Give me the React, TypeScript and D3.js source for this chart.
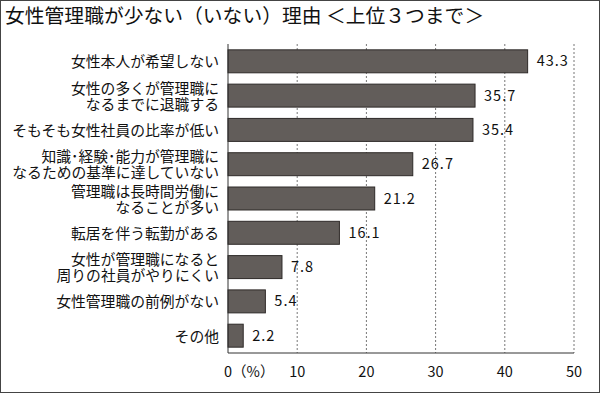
import React from "react";
import * as d3 from "d3";

const categories: string[][] = [
  ["女性本人が希望しない"],
  ["女性の多くが管理職に", "なるまでに退職する"],
  ["そもそも女性社員の比率が低い"],
  ["知識･経験･能力が管理職に", "なるための基準に達していない"],
  ["管理職は長時間労働に", "なることが多い"],
  ["転居を伴う転勤がある"],
  ["女性が管理職になると", "周りの社員がやりにくい"],
  ["女性管理職の前例がない"],
  ["その他"],
];
const values: number[] = [43.3, 35.7, 35.4, 26.7, 21.2, 16.1, 7.8, 5.4, 2.2];
const ticks: number[] = [0, 10, 20, 30, 40, 50];
const tickLabels: string[] = ["0（%）", "10", "20", "30", "40", "50"];
const title = "女性管理職が少ない（いない）理由 ＜上位３つまで＞";

const W = 600;
const H = 393;
const left = 228;
const right = 574;
const top = 44;
const bottom = 353;
const jp = "'Noto Sans CJK JP', sans-serif";

export default function App() {
  const x = d3.scaleLinear().domain([0, 50]).range([left, right]);
  const y = d3
    .scaleBand<number>()
    .domain(d3.range(categories.length))
    .range([top, bottom])
    .paddingInner(0.33)
    .paddingOuter(0.17);

  return (
    <svg
      width={W}
      height={H}
      style={{ position: "absolute", left: 0, top: 0, background: "#fff" }}
    >
      <rect x={0.5} y={0.5} width={W - 1} height={H - 1} fill="#fff" stroke="#444" />
      <text x={5} y={23} fontFamily={jp} fontSize={19.8} fill="#111">
        {title}
      </text>
      {ticks.slice(1).map((t) => (
        <line
          key={t}
          x1={x(t)}
          x2={x(t)}
          y1={top}
          y2={bottom}
          stroke="#777"
          strokeDasharray="2,2"
          strokeWidth={1}
        />
      ))}
      {values.map((v, i) => (
        <rect
          key={i}
          x={x(0)}
          y={y(i)!}
          width={x(v) - x(0)}
          height={y.bandwidth()}
          fill="#625d5a"
          stroke="#2e2a28"
          strokeWidth={1}
        />
      ))}
      <line x1={left} x2={left} y1={top} y2={bottom} stroke="#333" />
      <line x1={left} x2={right} y1={bottom} y2={bottom} stroke="#333" />
      {values.map((v, i) => (
        <text
          key={i}
          x={x(v) + 9}
          y={y(i)! + y.bandwidth() / 2 + 5}
          fontFamily={jp}
          fontSize={14.5}
          letterSpacing={1}
          fill="#111"
        >
          {v.toFixed(1)}
        </text>
      ))}
      {categories.map((lines, i) => {
        const cy = y(i)! + y.bandwidth() / 2;
        const h = 34;
        return (
          <foreignObject key={i} x={2} y={cy - h / 2} width={217} height={h}>
            <div
              style={{
                width: "217px",
                height: h + "px",
                display: "flex",
                alignItems: "center",
                justifyContent: "flex-end",
                fontFamily: jp,
                fontSize: "14.8px",
                lineHeight: "16px",
                color: "#111",
                whiteSpace: "pre",
                textAlign: "right",
              }}
            >
              {lines.join("\n")}
            </div>
          </foreignObject>
        );
      })}
      {ticks.map((t, i) => (
        <text
          key={t}
          x={i === 0 ? x(t) - 4 : x(t)}
          y={377}
          textAnchor={i === 0 ? "start" : "middle"}
          fontFamily={jp}
          fontSize={14.5}
          fill="#111"
        >
          {tickLabels[i]}
        </text>
      ))}
    </svg>
  );
}
